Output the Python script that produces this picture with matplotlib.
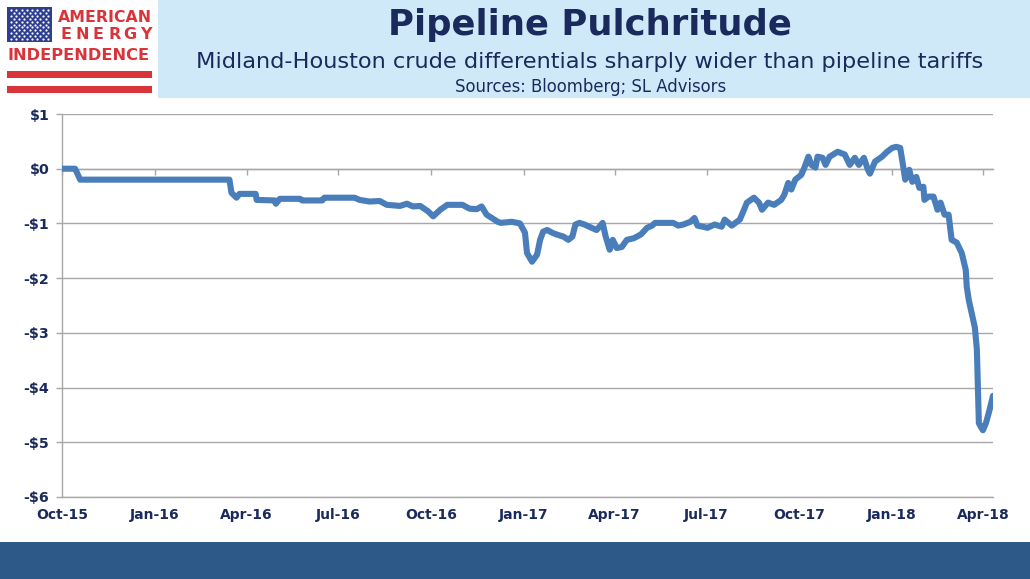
import matplotlib
matplotlib.use("Agg")
import matplotlib.pyplot as plt
import matplotlib.dates as mdates
import pandas as pd
import numpy as np
from matplotlib.patches import Rectangle

# ---------------- data ----------------
dates = ["2015-10-01","2015-10-14","2015-10-19","2016-03-15","2016-03-17","2016-03-22","2016-03-25","2016-04-10",
         "2016-04-11","2016-04-29","2016-04-30","2016-05-04","2016-05-24","2016-05-26","2016-06-15","2016-06-17",
         "2016-07-17","2016-07-22","2016-08-01","2016-08-11","2016-08-18","2016-08-31","2016-09-07","2016-09-13",
         "2016-09-20","2016-09-28","2016-10-03","2016-10-10","2016-10-17","2016-11-01","2016-11-08","2016-11-15",
         "2016-11-20","2016-11-25","2016-11-30","2016-12-06","2016-12-09","2016-12-20","2016-12-28","2017-01-02",
         "2017-01-04","2017-01-09","2017-01-14","2017-01-17","2017-01-20","2017-01-24","2017-01-29","2017-02-02",
         "2017-02-09","2017-02-14","2017-02-18","2017-02-21","2017-02-25","2017-03-02","2017-03-09","2017-03-14",
         "2017-03-20","2017-03-23","2017-03-27","2017-03-30","2017-04-03","2017-04-08","2017-04-13","2017-04-20",
         "2017-04-27","2017-05-03","2017-05-08","2017-05-11","2017-05-29","2017-06-03","2017-06-08","2017-06-15",
         "2017-06-19","2017-06-22","2017-07-02","2017-07-09","2017-07-16","2017-07-19","2017-07-26","2017-08-03",
         "2017-08-06","2017-08-10","2017-08-17","2017-08-22","2017-08-25","2017-08-31","2017-09-06","2017-09-13",
         "2017-09-16","2017-09-20","2017-09-23","2017-09-27","2017-10-03","2017-10-06","2017-10-10","2017-10-13",
         "2017-10-17","2017-10-19","2017-10-24","2017-10-27","2017-10-31","2017-11-08","2017-11-15","2017-11-20",
         "2017-11-25","2017-11-29","2017-12-04","2017-12-08","2017-12-10","2017-12-15","2017-12-22","2017-12-27",
         "2018-01-01","2018-01-05","2018-01-09","2018-01-12","2018-01-14","2018-01-18","2018-01-21","2018-01-25",
         "2018-01-28","2018-02-01","2018-02-02","2018-02-06","2018-02-11","2018-02-15","2018-02-18","2018-02-22",
         "2018-02-26","2018-03-01","2018-03-06","2018-03-11","2018-03-15","2018-03-16","2018-03-18","2018-03-21",
         "2018-03-24","2018-03-26","2018-03-27","2018-03-28","2018-03-30","2018-04-01","2018-04-04","2018-04-07",
         "2018-04-11"]
values = [0, 0, -0.2, -0.2, -0.44, -0.53, -0.46, -0.46,
          -0.57, -0.58, -0.64, -0.55, -0.55, -0.58, -0.58, -0.53,
          -0.53, -0.57, -0.6, -0.59, -0.66, -0.68, -0.64, -0.69,
          -0.68, -0.78, -0.87, -0.75, -0.66, -0.66, -0.73, -0.74,
          -0.69, -0.84, -0.9, -0.97, -0.99, -0.97, -1.0, -1.17,
          -1.54, -1.7, -1.57, -1.3, -1.15, -1.12, -1.17, -1.2,
          -1.24, -1.3, -1.24, -1.02, -0.99, -1.02, -1.08, -1.12,
          -0.99, -1.24, -1.48, -1.3, -1.45, -1.43, -1.3, -1.27,
          -1.2, -1.08, -1.04, -0.99, -0.99, -1.04, -1.02, -0.97,
          -0.9, -1.04, -1.08, -1.02, -1.06, -0.93, -1.04, -0.93,
          -0.8, -0.62, -0.53, -0.62, -0.75, -0.62, -0.66, -0.57,
          -0.48, -0.26, -0.38, -0.2, -0.11, 0.02, 0.22, 0.07,
          0.02, 0.22, 0.2, 0.07, 0.22, 0.31, 0.26, 0.07,
          0.2, 0.07, 0.2, -0.02, -0.09, 0.13, 0.22, 0.31,
          0.38, 0.4, 0.38, 0.04, -0.2, -0.02, -0.24, -0.15,
          -0.35, -0.33, -0.57, -0.51, -0.51, -0.75, -0.62, -0.84,
          -0.84, -1.3, -1.35, -1.54, -1.85, -2.16, -2.4, -2.65,
          -2.9, -3.3, -4.0, -4.65, -4.72, -4.78, -4.65, -4.45,
          -4.15]

y_ticks = [1, 0, -1, -2, -3, -4, -5, -6]
y_tick_labels = ["\\$1", "\\$0", "-\\$1", "-\\$2", "-\\$3", "-\\$4", "-\\$5", "-\\$6"]
x_tick_dates = ["2015-10-01", "2016-01-01", "2016-04-01", "2016-07-01", "2016-10-01", "2017-01-01",
                "2017-04-01", "2017-07-01", "2017-10-01", "2018-01-01", "2018-04-01"]
x_tick_labels = ["Oct-15", "Jan-16", "Apr-16", "Jul-16", "Oct-16", "Jan-17",
                 "Apr-17", "Jul-17", "Oct-17", "Jan-18", "Apr-18"]
x_start, x_end = "2015-10-01", "2018-04-11"

title = "Pipeline Pulchritude"
subtitle = "Midland-Houston crude differentials sharply wider than pipeline tariffs"
source = "Sources: Bloomberg; SL Advisors"

# ---------------- styling ----------------
W, H = 1030, 579
NAVY = "#1B2A5C"
LINE = "#4A7EBB"
GRID = "#A8A8A8"
RED = "#D8343A"

plt.rcParams["font.family"] = ["DejaVu Sans"]

fig = plt.figure(figsize=(W / 100, H / 100), dpi=100)
fig.patch.set_facecolor("white")

# background / header layer in pixel coordinates
bg = fig.add_axes([0, 0, 1, 1], zorder=0)
bg.set_xlim(0, W)
bg.set_ylim(H, 0)
bg.axis("off")

bg.add_patch(Rectangle((158, 0), W - 158, 98, color="#CFE9F9", lw=0))
bg.add_patch(Rectangle((0, 542), W, H - 542, color="#2C5987", lw=0))

bg.text(590, 25, title, ha="center", va="center", fontsize=25.5, fontweight="bold", color=NAVY)
bg.text(590, 62, subtitle, ha="center", va="center", fontsize=16.2, color=NAVY)
bg.text(591, 87, source, ha="center", va="center", fontsize=11.9, color=NAVY)

# logo
bg.add_patch(Rectangle((7, 7), 45, 35, color="#2F3F8F", lw=0))
sx, sy = np.meshgrid(np.linspace(11, 48, 8), np.linspace(10, 39, 6))
bg.scatter(sx.ravel(), sy.ravel(), s=2.5, color="white", lw=0)
sx2, sy2 = np.meshgrid(np.linspace(13.5, 45.5, 7), np.linspace(12.9, 36.1, 5))
bg.scatter(sx2.ravel(), sy2.ravel(), s=2.5, color="white", lw=0)
bg.text(152, 17, "AMERICAN", ha="right", va="center", fontsize=11.3, fontweight="bold", color=RED)
for ch, cx in zip("ENERGY", np.linspace(66.5, 146, 6)):
    bg.text(cx, 34.5, ch, ha="center", va="center", fontsize=11.5, fontweight="bold", color=RED)
bg.text(79, 56, "INDEPENDENCE", ha="center", va="center", fontsize=11.7, fontweight="bold", color=RED)
bg.add_patch(Rectangle((7, 71), 145, 7, color=RED, lw=0))
bg.add_patch(Rectangle((7, 86), 145, 7, color=RED, lw=0))

# ---------------- chart ----------------
left, right, top, bottom = 62, 993, 114, 497
ax = fig.add_axes([left / W, (H - bottom) / H, (right - left) / W, (bottom - top) / H], zorder=1)
ax.patch.set_alpha(0)

d = pd.to_datetime(dates)
ax.plot(d, values, color=LINE, lw=4.4, solid_joinstyle="round", solid_capstyle="round", zorder=3)

ax.set_xlim(pd.Timestamp(x_start), pd.Timestamp(x_end))
ax.set_ylim(min(y_ticks), max(y_ticks))

ax.set_yticks(y_ticks)
ax.set_yticklabels(y_tick_labels)
xt = pd.to_datetime(x_tick_dates)
ax.set_xticks(xt)
ax.set_xticklabels(x_tick_labels)

ax.yaxis.grid(True, color=GRID, lw=1.0, zorder=1)
ax.set_axisbelow(True)
for s in ["top", "right"]:
    ax.spines[s].set_visible(False)
ax.spines["left"].set_color(GRID)
ax.spines["bottom"].set_color(GRID)
ax.spines["left"].set_linewidth(1.0)
ax.spines["bottom"].set_linewidth(1.0)

ax.tick_params(axis="y", length=4, width=1, color=GRID, pad=5, labelsize=10.3, labelcolor=NAVY)
ax.tick_params(axis="x", length=0, pad=8, labelsize=10, labelcolor=NAVY)
for lab in ax.get_xticklabels() + ax.get_yticklabels():
    lab.set_fontweight("bold")

# x-axis tick marks crossing at $0
frac0 = (0 - min(y_ticks)) / (max(y_ticks) - min(y_ticks))
sec = ax.secondary_xaxis(frac0)
sec.set_xticks(xt)
sec.tick_params(axis="x", direction="in", length=4, width=1, color=GRID,
                labeltop=False, labelbottom=False)
for s in sec.spines.values():
    s.set_color(GRID)
    s.set_linewidth(1.0)

fig.savefig("out.png", dpi=100, facecolor="white")
